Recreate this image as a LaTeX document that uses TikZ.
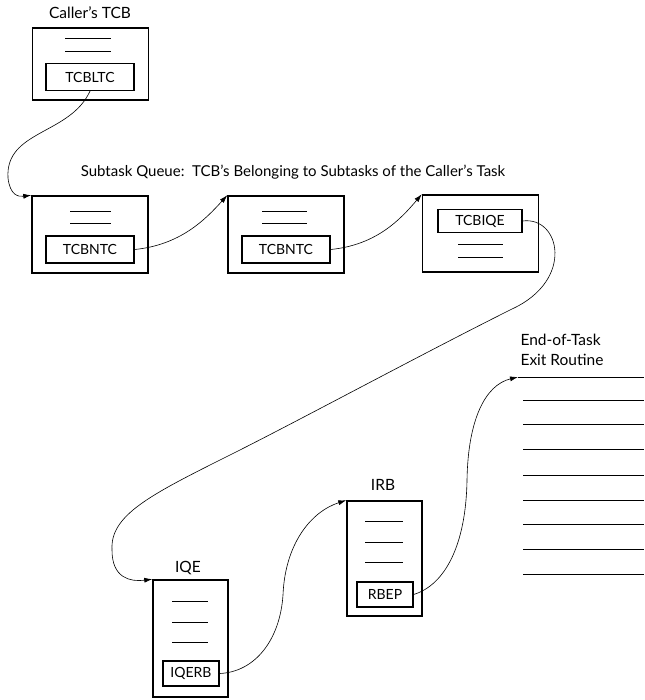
\documentclass[tikz,border=0pt]{standalone}
\usepackage{fontspec}
\setmainfont{Lato}
\usetikzlibrary{arrows.meta}
\tikzset{
	tcb/.style={draw, line width=1.5pt, minimum width=116pt, minimum height=77pt},
	blk/.style={draw, line width=1.5pt, minimum width=75pt, minimum height=116pt},
	field/.style={draw, line width=1.2pt, minimum width=88pt, minimum height=27pt, inner sep=0pt, font=\fontsize{14}{16}\selectfont},
	small field/.style={field, minimum width=56pt, minimum height=25pt},
	rule/.style={line width=0.9pt},
	link/.style={-{Latex[length=8pt, width=5pt]}, line width=0.6pt},
	title/.style={font=\fontsize{15.5}{20}\selectfont}
}
\begin{document}
\begin{tikzpicture}[x=1pt, y=-1pt]
		\useasboundingbox (0,0) rectangle (644,700);

		% caller's TCB
		\node[tcb, minimum height=72pt] (caller) at (90.5,64) {};
		\node[title] (callerT) at (90,13) {Caller's TCB};
		\draw[rule] (65,38) -- (111,38);
		\draw[rule] (65,51) -- (111,51);
		\node[field] (ltc) at (90,77) {TCBLTC};

		% subtask queue
		\node[title, font=\fontsize{15}{18}\selectfont] (queueT) at (293,172) {Subtask Queue:\ \ TCB's Belonging to Subtasks of the Caller's Task};

		\node[tcb] (q1) at (90,234.5) {};
		\draw[rule] (70,211) -- (111,211);
		\draw[rule] (70,223) -- (111,223);
		\node[field] (ntc1) at (90,249.5) {TCBNTC};

		\node[tcb] (q2) at (286,234.5) {};
		\draw[rule] (262,211) -- (307,211);
		\draw[rule] (262,223) -- (307,223);
		\node[field] (ntc2) at (286,249.5) {TCBNTC};

		\node[tcb] (q3) at (480.5,233.5) {};
		\node[field, minimum width=84pt, minimum height=23pt] (iqe) at (480,221) {TCBIQE};
		\draw[rule] (458,244) -- (503,244);
		\draw[rule] (458,257) -- (503,257);

		% IQE
		\node[blk, minimum height=117pt] (qe) at (190.5,638.5) {};
		\node[title] (qeT) at (188,568) {IQE};
		\draw[rule] (172,601) -- (208,601);
		\draw[rule] (172,622) -- (208,622);
		\draw[rule] (172,642) -- (208,642);
		\node[small field] (qerb) at (191,673.5) {IQERB};

		% IRB
		\node[blk, minimum height=115pt] (irb) at (384.5,558.5) {};
		\node[title] (irbT) at (383,485) {IRB};
		\draw[rule] (365,521) -- (403,521);
		\draw[rule] (365,542) -- (403,542);
		\draw[rule] (365,562) -- (403,562);
		\node[small field] (rbep) at (385,594.5) {RBEP};

		% exit routine
		\node[title, align=left, anchor=north west] (exitT) at (517,331) {End-of-Task\\Exit Routine};
		\coordinate (exit) at (518,377);
		\draw[rule] (exit) -- (644,377);
		\draw[rule] (523,400) -- (644,400);
		\draw[rule] (523,424) -- (644,424);
		\draw[rule] (523,449) -- (644,449);
		\draw[rule] (523,475) -- (644,475);
		\draw[rule] (523,500) -- (644,500);
		\draw[rule] (523,524) -- (644,524);
		\draw[rule] (523,549) -- (644,549);
		\draw[rule] (523,574) -- (644,574);

		% chain
		\draw[link] (ltc.south) .. controls (70,135) and (5,130) .. (8,178)
			.. controls (10,195) and (18,197) .. (q1.north west);
		\draw[link] (ntc1.east) .. controls (180,245) and (205,220) .. (q2.north west);
		\draw[link] (ntc2.east) .. controls (376,245) and (400,220) .. (q3.north west);
		\draw[link] (iqe.east) .. controls (560,216) and (575,280) .. (512,309)
			.. controls (420,355) and (300,420) .. (230,455)
			.. controls (150,495) and (110,515) .. (112,550)
			.. controls (112,578) and (130,582) .. (qe.north west);
		\draw[link] (qerb.east) .. controls (255,672) and (280,640) .. (283,595)
			.. controls (285,545) and (310,512) .. (irb.north west);
		\draw[link] (rbep.east) .. controls (445,585) and (466,545) .. (467,480)
			.. controls (468,420) and (485,385) .. (exit);
	\end{tikzpicture}
\end{document}
